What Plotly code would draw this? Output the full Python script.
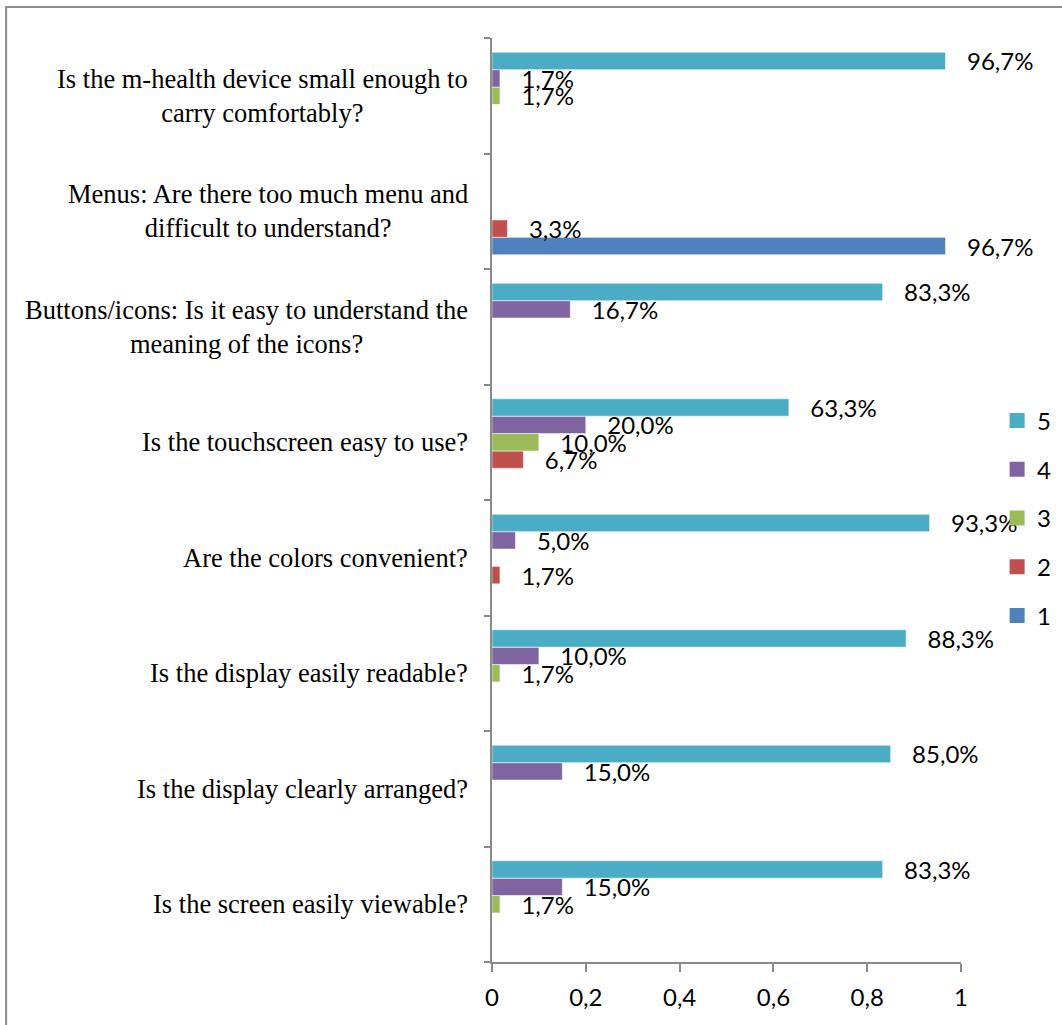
import plotly.graph_objects as go

# Survey questions, bottom to top on the chart
questions = [
    "Is the screen easily viewable?",
    "Is the display clearly arranged?",
    "Is the display easily readable?",
    "Are the colors convenient?",
    "Is the touchscreen easy to use?",
    "Buttons/icons: Is it easy to understand the<br>meaning of the icons?",
    "Menus: Are there too much menu and<br>difficult to understand?",
    "Is the m-health device small enough to<br>carry comfortably?",
]

# Share of answers (percent) per rating; None where nobody chose it
rating_1 = [None, None, None, None, None, None, 96.7, None]
rating_2 = [None, None, None, 1.7, 6.7, None, 3.3, None]
rating_3 = [1.7, None, 1.7, None, 10.0, None, None, 1.7]
rating_4 = [15.0, 15.0, 10.0, 5.0, 20.0, 16.7, None, 1.7]
rating_5 = [83.3, 85.0, 88.3, 93.3, 63.3, 83.3, None, 96.7]

series = [
    ("1", rating_1, "#4F81BD"),
    ("2", rating_2, "#C0504D"),
    ("3", rating_3, "#9BBB59"),
    ("4", rating_4, "#8064A2"),
    ("5", rating_5, "#4BACC6"),
]

x_ticks = [0, 0.2, 0.4, 0.6, 0.8, 1]

LABEL_FONT = dict(family="Lato", size=24, color="black")
AXIS_GREY = "#8a8a8a"
PAD = "\u00a0\u00a0\u00a0"


def pct_label(v):
    if v is None:
        return ""
    return PAD + f"{v:.1f}%".replace(".", ",")


fig = go.Figure()
for i, (name, vals, color) in enumerate(series):
    fig.add_trace(go.Bar(
        name=name,
        legendgroup=name,
        showlegend=False,
        orientation="h",
        y=questions,
        x=[None if v is None else v / 100 for v in vals],
        marker=dict(color=color, line=dict(color="rgba(255,255,255,0.55)", width=1)),
        text=[pct_label(v) for v in vals],
        textposition="outside",
        constraintext="none",
        cliponaxis=False,
        textfont=LABEL_FONT,
        hoverinfo="skip",
    ))
    # Square legend key for the rating
    fig.add_trace(go.Scatter(
        name=name,
        legendgroup=name,
        legendrank=len(series) - i,
        x=[None], y=[None],
        mode="markers",
        marker=dict(symbol="square", size=15, color=color),
        hoverinfo="skip",
    ))

# Centered, right-anchored question labels beside the category axis
for q in questions:
    fig.add_annotation(
        x=0, y=q, xref="x", yref="y",
        text=q, showarrow=False,
        xanchor="right", yanchor="middle", align="center",
        xshift=-22,
        font=dict(family="Liberation Serif", size=26.5, color="black"),
    )

# Outer frame around the chart area
fig.add_shape(
    type="rect", xref="paper", yref="paper",
    x0=-1.036, x1=2, y0=-1, y1=1.0335,
    line=dict(color="#8c8c8c", width=2),
    fillcolor="rgba(0,0,0,0)",
    layer="below",
)

fig.update_layout(
    width=1062,
    height=1025,
    margin=dict(l=492, r=101, t=38, b=63, autoexpand=False),
    paper_bgcolor="white",
    plot_bgcolor="white",
    barmode="group",
    bargap=0.247,
    bargroupgap=0,
    separators=", ",
    showlegend=True,
    legend=dict(
        traceorder="grouped",
        tracegroupgap=14.5,
        itemsizing="trace",
        x=1.077, xanchor="left",
        y=0.4805, yanchor="middle",
        font=dict(family="Lato", size=24, color="black"),
        bgcolor="rgba(0,0,0,0)",
    ),
    xaxis=dict(
        range=[0, 1],
        tickvals=x_ticks,
        showgrid=False,
        zeroline=False,
        showline=True,
        linecolor=AXIS_GREY,
        linewidth=1.5,
        ticks="outside",
        ticklen=8,
        tickcolor=AXIS_GREY,
        tickwidth=1.5,
        tickfont=LABEL_FONT,
        ticklabelstandoff=5,
    ),
    yaxis=dict(
        type="category",
        categoryorder="array",
        categoryarray=questions,
        showgrid=False,
        zeroline=False,
        showline=True,
        linecolor=AXIS_GREY,
        linewidth=1.5,
        ticks="outside",
        tickson="boundaries",
        ticklen=6,
        tickcolor=AXIS_GREY,
        tickwidth=1.5,
        showticklabels=False,
    ),
)

fig.write_html("out.html")
